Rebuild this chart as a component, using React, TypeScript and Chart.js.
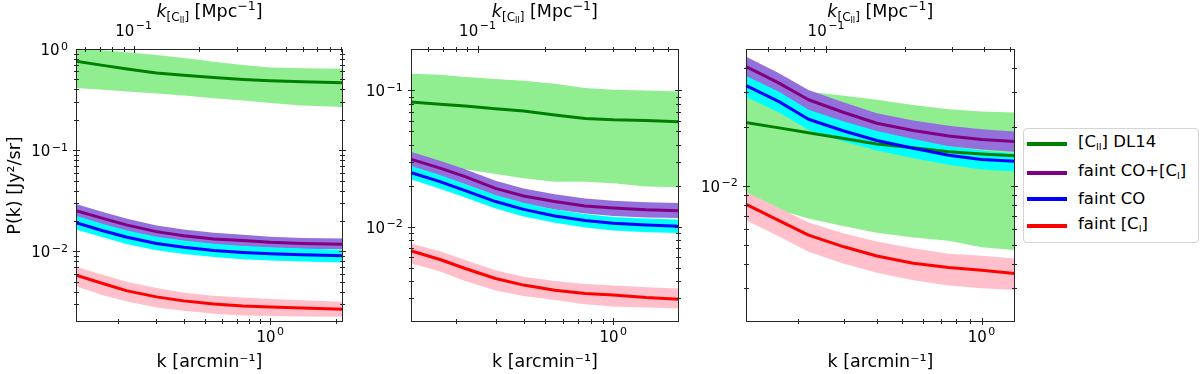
import React, { useEffect, useRef } from 'react';
import { Chart, registerables } from 'chart.js';

Chart.register(...registerables);
Chart.defaults.font.family = "'DejaVu Sans', sans-serif";
Chart.defaults.color = '#000';

// ---------------- data ----------------
// Panel 1
const kP1 = [0.128, 0.17, 0.22, 0.3, 0.4, 0.55, 0.75, 1.0, 1.4, 2.16];
const ciiP1 = [0.755, 0.689, 0.634, 0.578, 0.549, 0.524, 0.501, 0.486, 0.475, 0.464];
const ciiHiP1 = [1.015, 0.97, 0.927, 0.872, 0.815, 0.749, 0.694, 0.658, 0.644, 0.639];
const ciiLoP1 = [0.411, 0.396, 0.381, 0.364, 0.348, 0.327, 0.31, 0.292, 0.277, 0.267];
const cociP1 = [0.0253, 0.0212, 0.0182, 0.0157, 0.0143, 0.0133, 0.0128, 0.0123, 0.012, 0.0118];
const cociHiP1 = [0.0294, 0.0246, 0.0211, 0.0181, 0.0165, 0.0153, 0.0146, 0.014, 0.0136, 0.0134];
const cociLoP1 = [0.0218, 0.0183, 0.0158, 0.0136, 0.0124, 0.0116, 0.0112, 0.0108, 0.0106, 0.0105];
const coP1 = [0.0192, 0.016, 0.0138, 0.012, 0.011, 0.0102, 0.00977, 0.00948, 0.00927, 0.00906];
const coHiP1 = [0.0225, 0.0187, 0.0161, 0.014, 0.0128, 0.0119, 0.0113, 0.011, 0.0107, 0.0104];
const coLoP1 = [0.0165, 0.0138, 0.0118, 0.0103, 0.00942, 0.0088, 0.0084, 0.00815, 0.00797, 0.00779];
const ciP1 = [0.00583, 0.00482, 0.00408, 0.00356, 0.00325, 0.00303, 0.0029, 0.00283, 0.00277, 0.00269];
const ciHiP1 = [0.00705, 0.0059, 0.005, 0.00435, 0.0039, 0.00365, 0.0035, 0.0034, 0.0033, 0.00318];
const ciLoP1 = [0.00454, 0.0037, 0.0032, 0.0028, 0.0026, 0.00243, 0.00233, 0.0023, 0.00228, 0.00226];

// Panel 2
const kP2 = [0.126, 0.17, 0.22, 0.3, 0.4, 0.55, 0.75, 1.0, 1.4, 1.96];
const ciiP2 = [0.0821, 0.0793, 0.0767, 0.0733, 0.0705, 0.0659, 0.0623, 0.0608, 0.0602, 0.0588];
const ciiHiP2 = [0.1326, 0.1303, 0.1253, 0.1212, 0.1178, 0.1119, 0.104, 0.1012, 0.1, 0.0983];
const ciiLoP2 = [0.0284, 0.0273, 0.0264, 0.0244, 0.0227, 0.0214, 0.0214, 0.0208, 0.0197, 0.0195];
const cociP2 = [0.0313, 0.0269, 0.0233, 0.0191, 0.0168, 0.0153, 0.0142, 0.0137, 0.0133, 0.0131];
const cociHiP2 = [0.0355, 0.0305, 0.0264, 0.0217, 0.0191, 0.0173, 0.0161, 0.0155, 0.0151, 0.0149];
const cociLoP2 = [0.0275, 0.0237, 0.0205, 0.0168, 0.0148, 0.0134, 0.0125, 0.012, 0.0117, 0.0116];
const coP2 = [0.025, 0.0214, 0.0184, 0.0153, 0.0134, 0.012, 0.0111, 0.0106, 0.0103, 0.0101];
const coHiP2 = [0.028, 0.024, 0.0206, 0.0171, 0.015, 0.0134, 0.0124, 0.0118, 0.0115, 0.0113];
const coLoP2 = [0.0223, 0.019, 0.0164, 0.0136, 0.0119, 0.0107, 0.00985, 0.0094, 0.0091, 0.009];
const ciP2 = [0.00666, 0.00575, 0.00494, 0.00417, 0.00373, 0.00342, 0.00324, 0.00315, 0.00302, 0.00294];
const ciHiP2 = [0.00754, 0.0066, 0.0057, 0.0048, 0.0043, 0.004, 0.0038, 0.0037, 0.0036, 0.00352];
const ciLoP2 = [0.0054, 0.0047, 0.004, 0.0034, 0.0031, 0.0029, 0.0027, 0.0026, 0.00255, 0.00251];

// Panel 3
const kP3 = [0.127, 0.17, 0.22, 0.3, 0.4, 0.55, 0.75, 1.0, 1.34];
const ciiP3 = [0.021, 0.0197, 0.0186, 0.0174, 0.0163, 0.0156, 0.0149, 0.0145, 0.0142];
const ciiHiP3 = [0.0326, 0.031, 0.0301, 0.0287, 0.0274, 0.0258, 0.0245, 0.0239, 0.0236];
const ciiLoP3 = [0.00845, 0.00751, 0.00681, 0.00622, 0.00576, 0.00545, 0.00524, 0.00485, 0.0047];
const cociP3 = [0.0405, 0.0333, 0.0274, 0.0236, 0.0208, 0.0191, 0.0179, 0.0172, 0.0168];
const cociHiP3 = [0.0455, 0.0374, 0.0307, 0.0265, 0.0234, 0.0215, 0.0202, 0.0194, 0.0189];
const cociLoP3 = [0.0357, 0.0293, 0.0241, 0.0208, 0.0184, 0.0169, 0.0159, 0.0153, 0.0149];
const coP3 = [0.0324, 0.0268, 0.0218, 0.019, 0.017, 0.0155, 0.0143, 0.0136, 0.0133];
const coHiP3 = [0.0363, 0.0301, 0.0244, 0.0212, 0.019, 0.0173, 0.0159, 0.0151, 0.0146];
const coLoP3 = [0.0284, 0.0236, 0.0192, 0.0168, 0.0151, 0.0138, 0.0128, 0.0121, 0.0118];
const ciP3 = [0.00806, 0.00663, 0.0056, 0.00488, 0.00438, 0.00402, 0.00383, 0.00371, 0.00357];
const ciHiP3 = [0.00932, 0.0077, 0.0065, 0.0057, 0.0052, 0.0048, 0.0045, 0.0044, 0.00426];
const ciLoP3 = [0.00668, 0.0055, 0.0046, 0.004, 0.0036, 0.0033, 0.0031, 0.003, 0.00294];

// axis ranges
const xRangeP1 = [0.128, 2.16];
const xRangeP2 = [0.126, 1.96];
const xRangeP3 = [0.127, 1.34];
const yRangeP1 = [0.00201, 1.0];
const yRangeP2 = [0.002, 0.2013];
const yRangeP3 = [0.00202, 0.0497];
// k[arcmin^-1] -> k_[CII][Mpc^-1] conversion of each panel's top axis
const kConvP1 = 0.4248;
const kConvP2 = 0.4007;
const kConvP3 = 0.39;

// tick labels (powers of ten that are labelled)
const yTickExpsP1 = [0, -1, -2];
const yTickExpsP2 = [-1, -2];
const yTickExpsP3 = [-2];
const bottomTickExps = [0];
const topTickExps = [-1];

// legend
const legendEntries = [
  { pre: '[C', sub: 'II', post: '] DL14' },
  { pre: 'faint CO+[C', sub: 'I', post: ']' },
  { pre: 'faint CO', sub: '', post: '' },
  { pre: 'faint [C', sub: 'I', post: ']' },
];

// ---------------- styles ----------------
const LINE_COLORS = ['#008000', '#800080', '#0000ff', '#ff0000'];
const BAND_COLORS = ['#90ee90', '#9370db', '#00ffff', '#ffc0cb'];
const FONT = "'DejaVu Sans', sans-serif";
const BASE_FONT = `15px ${FONT}`;
const SUP_FONT = `11px ${FONT}`;

const isPow10 = (v: number) => {
  const l = Math.log10(v);
  return Math.abs(l - Math.round(l)) < 1e-6;
};
const isIntSig = (v: number) => {
  const e = Math.floor(Math.log10(v) + 1e-9);
  const s = v / Math.pow(10, e);
  return Math.abs(s - Math.round(s)) < 1e-6;
};
const expText = (e: number) => String(e).replace('-', '\u2212');
const labelExp = (v: number, exps: number[]) => {
  if (!isPow10(v)) return null;
  const e = Math.round(Math.log10(v));
  return exps.includes(e) ? e : null;
};

function makeAxesPlugin(yExps: number[]) {
  return {
    id: 'mplAxes',
    afterDatasetsDraw(chart: any) {
      const { ctx, chartArea: a } = chart;
      const sx = chart.scales.x;
      const sy = chart.scales.y;
      const st = chart.scales.x2;
      ctx.save();
      ctx.strokeStyle = '#262626';
      ctx.lineWidth = 1;
      const seg = (x1: number, y1: number, x2: number, y2: number) => {
        ctx.beginPath();
        ctx.moveTo(x1, y1);
        ctx.lineTo(x2, y2);
        ctx.stroke();
      };
      const L = Math.round(a.left) + 0.5;
      const R = Math.round(a.right) - 0.5;
      const T = Math.round(a.top) + 0.5;
      const B = Math.round(a.bottom) - 0.5;
      const hTicks = (scale: any, yEdge: number) => {
        for (const t of scale.ticks) {
          if (!isIntSig(t.value)) continue;
          const p = scale.getPixelForValue(t.value);
          if (p < a.left + 0.5 || p > a.right - 0.5) continue;
          const px = Math.round(p) + 0.5;
          const len = isPow10(t.value) ? 3.5 : 2.5;
          seg(px, yEdge - len, px, yEdge + len);
        }
      };
      const vTicks = (scale: any) => {
        for (const t of scale.ticks) {
          if (!isIntSig(t.value)) continue;
          const p = scale.getPixelForValue(t.value);
          if (p < a.top + 0.5 || p > a.bottom - 0.5) continue;
          const py = Math.round(p) + 0.5;
          const len = isPow10(t.value) ? 3.5 : 2.5;
          seg(L - len, py, L + len, py);
          seg(R - len, py, R + len, py);
        }
      };
      hTicks(sx, B);
      hTicks(st, T);
      vTicks(sy);
      ctx.strokeRect(L, T, R - L, B - T);
      ctx.restore();
    },
    afterDraw(chart: any) {
      const { ctx, chartArea: a } = chart;
      ctx.save();
      ctx.fillStyle = '#000';
      ctx.textBaseline = 'alphabetic';
      ctx.textAlign = 'left';

      // power-of-ten tick labels: "10" with a raised exponent
      const measure = (e: number) => {
        ctx.font = BASE_FONT;
        const w1 = ctx.measureText('10').width;
        ctx.font = SUP_FONT;
        const w2 = ctx.measureText(expText(e)).width;
        return { w1, w2, total: w1 + 1.5 + w2 };
      };
      const drawLabel = (e: number, x: number, base: number, supRise: number) => {
        const m = measure(e);
        ctx.font = BASE_FONT;
        ctx.fillText('10', x, base);
        ctx.font = SUP_FONT;
        ctx.fillText(expText(e), x + m.w1 + 1.5, base - supRise);
        return m.total;
      };
      for (const t of chart.scales.x.ticks) {
        const e = labelExp(t.value, bottomTickExps);
        if (e === null) continue;
        const p = chart.scales.x.getPixelForValue(t.value);
        const m = measure(e);
        drawLabel(e, p - m.total / 2, a.bottom + 20, 7);
      }
      for (const t of chart.scales.x2.ticks) {
        const e = labelExp(t.value, topTickExps);
        if (e === null) continue;
        const p = chart.scales.x2.getPixelForValue(t.value);
        const m = measure(e);
        drawLabel(e, p - m.total / 2, a.top - 13, 7);
      }
      for (const t of chart.scales.y.ticks) {
        const e = labelExp(t.value, yExps);
        if (e === null) continue;
        const p = chart.scales.y.getPixelForValue(t.value);
        const m = measure(e);
        drawLabel(e, a.left - 8 - m.total, p + 6, 5.5);
      }

      // top axis title: k_[C_II] [Mpc^-1]
      const parts = [
        { t: 'k', f: `italic 17.5px ${FONT}`, dy: 0 },
        { t: '[C', f: `12px ${FONT}`, dy: 4 },
        { t: 'II', f: `8px ${FONT}`, dy: 6 },
        { t: ']', f: `12px ${FONT}`, dy: 4 },
        { t: ' [Mpc', f: `17.5px ${FONT}`, dy: 0 },
        { t: '\u22121', f: `12.5px ${FONT}`, dy: -7 },
        { t: ']', f: `17.5px ${FONT}`, dy: 0 },
      ];
      let total = 0;
      const widths = parts.map((p) => {
        ctx.font = p.f;
        const w = ctx.measureText(p.t).width;
        total += w;
        return w;
      });
      let x = (a.left + a.right) / 2 - total / 2;
      const base = 17;
      parts.forEach((p, i) => {
        ctx.font = p.f;
        ctx.fillText(p.t, x, base + p.dy);
        x += widths[i];
      });
      ctx.restore();
    },
  };
}

type PanelCfg = {
  left: number;
  width: number;
  plotLeft: number;
  plotRight: number;
  xRange: number[];
  yRange: number[];
  kConv: number;
  yTickExps: number[];
  yTitle: string;
  k: number[];
  series: { line: number[]; hi: number[]; lo: number[] }[];
};

const panels: PanelCfg[] = [
  {
    left: 0, width: 350, plotLeft: 76, plotRight: 343,
    xRange: xRangeP1, yRange: yRangeP1, kConv: kConvP1, yTickExps: yTickExpsP1,
    yTitle: 'P(k) [Jy\u00B2/sr]', k: kP1,
    series: [
      { line: ciiP1, hi: ciiHiP1, lo: ciiLoP1 },
      { line: cociP1, hi: cociHiP1, lo: cociLoP1 },
      { line: coP1, hi: coHiP1, lo: coLoP1 },
      { line: ciP1, hi: ciHiP1, lo: ciLoP1 },
    ],
  },
  {
    left: 350, width: 350, plotLeft: 410.7, plotRight: 679,
    xRange: xRangeP2, yRange: yRangeP2, kConv: kConvP2, yTickExps: yTickExpsP2,
    yTitle: '', k: kP2,
    series: [
      { line: ciiP2, hi: ciiHiP2, lo: ciiLoP2 },
      { line: cociP2, hi: cociHiP2, lo: cociLoP2 },
      { line: coP2, hi: coHiP2, lo: coLoP2 },
      { line: ciP2, hi: ciHiP2, lo: ciLoP2 },
    ],
  },
  {
    left: 700, width: 320, plotLeft: 745.7, plotRight: 1015,
    xRange: xRangeP3, yRange: yRangeP3, kConv: kConvP3, yTickExps: yTickExpsP3,
    yTitle: '', k: kP3,
    series: [
      { line: ciiP3, hi: ciiHiP3, lo: ciiLoP3 },
      { line: cociP3, hi: cociHiP3, lo: cociLoP3 },
      { line: coP3, hi: coHiP3, lo: coLoP3 },
      { line: ciP3, hi: ciHiP3, lo: ciLoP3 },
    ],
  },
];

const H = 374;
const PLOT_TOP = 49;
const PLOT_BOTTOM = 322;

function buildDatasets(cfg: PanelCfg) {
  const pts = (ys: number[]) => cfg.k.map((x, i) => ({ x, y: ys[i] }));
  const ds: any[] = [];
  cfg.series.forEach((s, i) => {
    const bandOrder = 20 - i;
    const lineOrder = 10 - i;
    ds.push({
      data: pts(s.hi), fill: '+1', backgroundColor: BAND_COLORS[i],
      borderColor: 'rgba(0,0,0,0)', borderWidth: 0, pointRadius: 0, order: bandOrder,
    });
    ds.push({
      data: pts(s.lo), fill: false, backgroundColor: 'rgba(0,0,0,0)',
      borderColor: 'rgba(0,0,0,0)', borderWidth: 0, pointRadius: 0, order: bandOrder,
    });
    ds.push({
      data: pts(s.line), fill: false, borderColor: LINE_COLORS[i], borderWidth: 3,
      pointRadius: 0, order: lineOrder, borderJoinStyle: 'round', borderCapStyle: 'butt',
    });
  });
  return ds;
}

function Panel({ cfg }: { cfg: PanelCfg }) {
  const ref = useRef<HTMLCanvasElement>(null);
  useEffect(() => {
    if (!ref.current) return;
    const yWidth = cfg.plotLeft - cfg.left;
    const rightPad = cfg.left + cfg.width - cfg.plotRight;
    const chart = new Chart(ref.current, {
      type: 'line',
      data: { datasets: buildDatasets(cfg) },
      plugins: [makeAxesPlugin(cfg.yTickExps)],
      options: {
        animation: false,
        responsive: false,
        devicePixelRatio: 1,
        events: [],
        layout: { padding: { left: 0, right: rightPad, top: 0, bottom: 0 } },
        elements: { line: { tension: 0 } },
        plugins: { legend: { display: false }, tooltip: { enabled: false } },
        scales: {
          x: {
            type: 'logarithmic',
            position: 'bottom',
            min: cfg.xRange[0],
            max: cfg.xRange[1],
            grid: { display: false, drawTicks: false },
            border: { display: false },
            ticks: { display: false, autoSkip: false },
            title: {
              display: true, text: 'k [arcmin\u207B\u00B9]',
              font: { size: 17.5 }, color: '#000', padding: { top: 0, bottom: 1.5 },
            },
            afterFit: (s: any) => { s.height = H - PLOT_BOTTOM; },
          },
          x2: {
            type: 'logarithmic',
            position: 'top',
            min: cfg.xRange[0] * cfg.kConv,
            max: cfg.xRange[1] * cfg.kConv,
            grid: { display: false, drawTicks: false },
            border: { display: false },
            ticks: { display: false, autoSkip: false },
            afterFit: (s: any) => { s.height = PLOT_TOP; },
          },
          y: {
            type: 'logarithmic',
            position: 'left',
            min: cfg.yRange[0],
            max: cfg.yRange[1],
            grid: { display: false, drawTicks: false },
            border: { display: false },
            ticks: { display: false, autoSkip: false },
            title: {
              display: cfg.yTitle !== '', text: cfg.yTitle,
              font: { size: 17.5 }, color: '#000', padding: { top: 4.5, bottom: 0 },
            },
            afterFit: (s: any) => { s.width = yWidth; },
          },
        },
      } as any,
    });
    return () => chart.destroy();
  }, [cfg]);
  return (
    <canvas
      ref={ref}
      width={cfg.width}
      height={H}
      style={{ position: 'absolute', left: cfg.left, top: 0, width: cfg.width, height: H }}
    />
  );
}

function Legend() {
  const rowCenters = [15, 44, 70, 97];
  return (
    <div
      style={{
        position: 'absolute', left: 1023, top: 128, width: 176, height: 115,
        boxSizing: 'border-box', border: '1px solid #d4d4d4', borderRadius: 4,
        background: '#fff', fontFamily: FONT, fontSize: 16.5, color: '#000',
      }}
    >
      {legendEntries.map((e, i) => (
        <div
          key={i}
          style={{
            position: 'absolute', left: 3, top: rowCenters[i] - 11, height: 22,
            display: 'flex', alignItems: 'center', whiteSpace: 'nowrap',
          }}
        >
          <div style={{ width: 40, height: 4, background: LINE_COLORS[i] }} />
          <span style={{ marginLeft: 11, lineHeight: '22px' }}>
            {e.pre}
            {e.sub ? (
              <span style={{ fontSize: 9.5, verticalAlign: '-3px' }}>{e.sub}</span>
            ) : null}
            {e.post}
          </span>
        </div>
      ))}
    </div>
  );
}

export default function App() {
  return (
    <div style={{ position: 'absolute', left: 0, top: 0, width: 1200, height: H, background: '#fff' }}>
      {panels.map((p, i) => (
        <Panel key={i} cfg={p} />
      ))}
      <Legend />
    </div>
  );
}
